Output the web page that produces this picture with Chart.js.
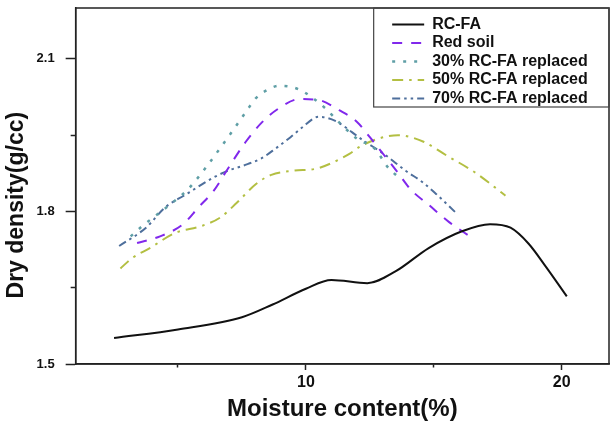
<!DOCTYPE html>
<html>
<head>
<meta charset="utf-8">
<script src="https://cdn.jsdelivr.net/npm/chart.js@4.4.1/dist/chart.umd.min.js"></script>
<style>
  body { margin: 0; background: #fff; }
</style>
</head>
<body>
<canvas id="myChart" width="611" height="424"></canvas>
<script>
// values
const seriesNames = ['RC-FA', 'Red soil', '30% RC-FA replaced', '50% RC-FA replaced', '70% RC-FA replaced'];

const rcfaX = [2.5, 5.0, 7.5, 8.7, 10.0, 11.0, 12.4, 13.5, 14.8, 16.1, 17.2, 18.0, 18.7, 19.4, 20.2];
const rcfaY = [1.551, 1.568, 1.592, 1.617, 1.648, 1.665, 1.659, 1.682, 1.728, 1.761, 1.775, 1.768, 1.737, 1.690, 1.633];

const redX = [3.4, 4.3, 5.2, 5.8, 6.4, 6.9, 7.65, 8.3, 8.95, 9.75, 10.5, 11.3, 12.0, 12.5, 13.1, 13.6, 14.1, 14.8, 15.6, 16.5];
const redY = [1.738, 1.751, 1.775, 1.808, 1.841, 1.880, 1.937, 1.976, 2.003, 2.021, 2.019, 1.999, 1.976, 1.946, 1.908, 1.876, 1.843, 1.813, 1.779, 1.748];

const p30X = [3.15, 3.6, 4.6, 5.4, 6.1, 6.7, 7.2, 7.7, 8.05, 8.5, 8.95, 9.5, 9.95, 10.8, 11.2, 12.0, 12.7, 13.2, 13.65];
const p30Y = [1.751, 1.771, 1.810, 1.844, 1.887, 1.928, 1.963, 1.999, 2.023, 2.039, 2.047, 2.044, 2.034, 2.001, 1.980, 1.943, 1.923, 1.887, 1.866];

const p50X = [2.75, 3.2, 3.9, 4.9, 5.9, 6.65, 7.3, 8.05, 8.65, 9.5, 10.4, 11.0, 11.7, 12.1, 12.65, 13.6, 14.1, 14.6, 15.5, 16.6, 17.6, 17.8];
const p50Y = [1.688, 1.708, 1.728, 1.758, 1.771, 1.788, 1.817, 1.854, 1.872, 1.880, 1.884, 1.895, 1.913, 1.927, 1.940, 1.950, 1.946, 1.937, 1.910, 1.877, 1.839, 1.831];

const p70X = [2.7, 3.75, 4.5, 5.3, 6.4, 6.95, 7.55, 8.25, 8.85, 9.4, 9.85, 10.5, 11.15, 11.8, 12.2, 13.05, 13.9, 14.6, 15.1, 15.85];
const p70Y = [1.732, 1.768, 1.808, 1.833, 1.867, 1.880, 1.890, 1.904, 1.925, 1.946, 1.965, 1.986, 1.978, 1.956, 1.941, 1.913, 1.880, 1.856, 1.834, 1.798];

const xTickValues = [5, 10, 15, 20];
const xTickLabels = ['', '10', '', '20'];
const yTickValues = [1.5, 1.65, 1.8, 1.95, 2.1];
const yTickLabels = ['1.5', '', '1.8', '', '2.1'];

function pts(xs, ys) {
  return xs.map((x, i) => ({ x: x, y: ys[i] }));
}

const FONT = "'Liberation Sans', Arial, sans-serif";
const AXIS_COLOR = '#222';

const lineDefaults = {
  pointRadius: 0,
  borderWidth: 2,
  fill: false,
  cubicInterpolationMode: 'monotone'
};

// frame around the plot + box around the legend
const framePlugin = {
  id: 'frame',
  afterLayout(chart) {
    const lg = chart.legend;
    const a = chart.chartArea;
    lg.left = a.left + 314;
    lg.top = a.top + 6;
    lg.right = lg.left + lg.width;
  },
  afterDraw(chart) {
    const a = chart.chartArea;
    const ctx = chart.ctx;
    ctx.save();
    ctx.strokeStyle = AXIS_COLOR;
    ctx.lineWidth = 1.5;
    ctx.strokeRect(a.left, a.top, a.right - a.left, a.bottom - a.top);
    ctx.lineWidth = 1.2;
    ctx.strokeStyle = '#444';
    ctx.strokeRect(a.left + 298, a.top, a.right - a.left - 298, 99);
    ctx.restore();
  }
};

const ctx = document.getElementById('myChart');

new Chart(ctx, {
  type: 'line',
  data: {
    datasets: [
      Object.assign({ label: seriesNames[0], data: pts(rcfaX, rcfaY), borderColor: '#111111', backgroundColor: '#111111' }, lineDefaults),
      Object.assign({ label: seriesNames[1], data: pts(redX, redY), borderColor: '#8128ec', backgroundColor: '#8128ec', borderDash: [10, 9] }, lineDefaults),
      Object.assign({ label: seriesNames[2], data: pts(p30X, p30Y), borderColor: '#5f9fa6', backgroundColor: '#5f9fa6', borderDash: [3, 8] }, lineDefaults, { borderWidth: 2.5 }),
      Object.assign({ label: seriesNames[3], data: pts(p50X, p50Y), borderColor: '#b3bf42', backgroundColor: '#b3bf42', borderDash: [11, 6, 2.5, 6] }, lineDefaults),
      Object.assign({ label: seriesNames[4], data: pts(p70X, p70Y), borderColor: '#4e6f9c', backgroundColor: '#4e6f9c', borderDash: [8, 4, 2.5, 4, 2.5, 4] }, lineDefaults)
    ]
  },
  options: {
    responsive: false,
    animation: false,
    layout: { padding: { left: 2, top: 8, right: 2, bottom: 0 } },
    plugins: {
      tooltip: { enabled: false },
      legend: {
        position: 'chartArea',
        align: 'start',
        labels: {
          usePointStyle: true,
          pointStyle: 'line',
          pointStyleWidth: 32,
          boxHeight: 16,
          padding: 2.5,
          color: '#111',
          font: { family: FONT, size: 16, weight: 'bold' },
          generateLabels: (chart) => {
            const items = Chart.defaults.plugins.legend.labels.generateLabels(chart);
            return items.map((it, i) => {
              const ds = chart.data.datasets[i];
              it.lineDash = ds.borderDash || [];
              it.lineWidth = ds.borderWidth;
              it.strokeStyle = ds.borderColor;
              return it;
            });
          }
        }
      }
    },
    scales: {
      x: {
        type: 'linear',
        min: 1,
        max: 21.85,
        afterBuildTicks: (scale) => { scale.ticks = xTickValues.map(v => ({ value: v })); },
        ticks: {
          padding: 3,
          color: '#111',
          font: { family: FONT, size: 16, weight: 'bold' },
          callback: (v) => xTickLabels[xTickValues.indexOf(v)] || ''
        },
        grid: {
          drawOnChartArea: false,
          tickLength: 6,
          tickColor: AXIS_COLOR,
          tickWidth: 1.5,
          tickBorderDash: (c) => (c.tick && xTickLabels[xTickValues.indexOf(c.tick.value)]) ? [] : [3, 20]
        },
        border: { color: AXIS_COLOR, width: 1.5 },
        title: {
          display: true,
          text: 'Moisture content(%)',
          color: '#111',
          font: { family: FONT, size: 24, weight: 'bold' },
          padding: { top: 0, bottom: 0 }
        }
      },
      y: {
        type: 'linear',
        min: 1.5,
        max: 2.2,
        afterBuildTicks: (scale) => { scale.ticks = yTickValues.map(v => ({ value: v })); },
        ticks: {
          padding: 0,
          color: '#111',
          font: { family: FONT, size: 13, weight: 'bold' },
          callback: (v) => yTickLabels[yTickValues.indexOf(v)] || ''
        },
        grid: {
          drawOnChartArea: false,
          tickLength: 21,
          tickColor: AXIS_COLOR,
          tickWidth: 1.5,
          tickBorderDash: (c) => (c.tick && yTickLabels[yTickValues.indexOf(c.tick.value)]) ? [0, 11, 10, 40] : [0, 16, 5, 40]
        },
        border: { color: AXIS_COLOR, width: 1.5 },
        title: {
          display: true,
          text: 'Dry density(g/cc)      ',
          color: '#111',
          font: { family: FONT, size: 23, weight: 'bold' },
          padding: { top: 1, bottom: 6 }
        }
      }
    }
  },
  plugins: [framePlugin]
});
</script>
</body>
</html>
